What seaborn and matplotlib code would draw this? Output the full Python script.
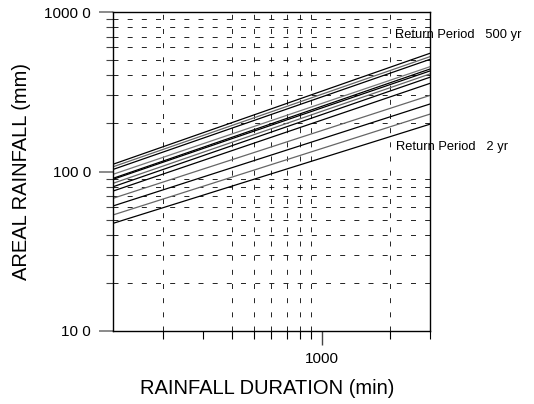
import matplotlib
matplotlib.use("Agg")
import matplotlib.pyplot as plt
from matplotlib.ticker import FixedLocator, NullFormatter
import pandas as pd
import seaborn as sns

# rainfall depth (mm) at the two ends of the duration axis
durations = [120, 3000]
rain_120 = [111, 107, 103, 96, 90.6, 89.3, 84.3, 80.2, 75.4, 67.9, 60.8, 53.4, 47.3]
rain_3000 = [551, 525, 505, 454, 439, 427, 409, 390, 357, 300, 265, 229, 198]

y_ticks = [10, 100, 1000]
y_tick_labels = ["10 0", "100 0", "1000 0"]
y_minor = [20, 30, 40, 50, 60, 70, 80, 90, 200, 300, 400, 500, 600, 700, 800, 900]
x_ticks = [1000]
x_tick_labels = ["1000"]
x_minor = [200, 300, 400, 500, 600, 700, 800, 900, 2000, 3000]
x_grid = [200, 400, 500, 600, 700, 800, 900, 2000]

rows = []
for i, (a, b) in enumerate(zip(rain_120, rain_3000)):
    rows.append({"curve": i, "duration": durations[0], "rainfall": a})
    rows.append({"curve": i, "duration": durations[1], "rainfall": b})
df = pd.DataFrame(rows)

sns.set_style("white")
plt.rcParams["font.family"] = ["Liberation Sans", "DejaVu Sans"]
plt.rcParams["text.color"] = "black"
plt.rcParams["axes.labelcolor"] = "black"
plt.rcParams["xtick.color"] = "black"
plt.rcParams["ytick.color"] = "black"

fig = plt.figure(figsize=(5.34, 4.04), dpi=100)
ax = fig.add_axes([113 / 534, 73 / 404, 317 / 534, 319 / 404])

# scanned curves: some came out darker than others
shades = ["black", "#666666", "black", "#777777", "black", "black", "#666666",
          "black", "black", "#666666", "black", "#666666", "black"]
sns.lineplot(data=df, x="duration", y="rainfall", hue="curve", palette=shades,
             legend=False, linewidth=0.9, ax=ax)

ax.set_xscale("log")
ax.set_yscale("log")
ax.set_xlim(120, 3000)
ax.set_ylim(10, 1000)

# dashed grid
for v in y_minor:
    ax.axhline(v, color="black", linewidth=0.6, linestyle=(0, (6, 11)), zorder=0)
for v in x_grid:
    ax.axvline(v, color="black", linewidth=0.6, linestyle=(0, (6, 11)), zorder=0)

ax.xaxis.set_major_locator(FixedLocator(x_ticks))
ax.set_xticklabels(x_tick_labels)
ax.xaxis.set_minor_locator(FixedLocator(x_minor))
ax.xaxis.set_minor_formatter(NullFormatter())
ax.yaxis.set_major_locator(FixedLocator(y_ticks))
ax.set_yticklabels(y_tick_labels)
ax.yaxis.set_minor_locator(FixedLocator(y_minor))
ax.yaxis.set_minor_formatter(NullFormatter())

ax.tick_params(axis="both", which="both", bottom=True, left=True, top=False,
               right=False, direction="out")
ax.tick_params(axis="x", which="major", length=10, width=1.0, labelsize=11,
               color="#444444", labelcolor="black", pad=5)
ax.tick_params(axis="y", which="major", length=10, width=1.2, labelsize=11,
               color="#777777", labelcolor="black", pad=6)
ax.tick_params(axis="x", which="minor", length=6, width=0.8, color="black")
ax.tick_params(axis="y", which="minor", length=5, width=0.8, color="#444444")

for s in ax.spines.values():
    s.set_color("black")
    s.set_linewidth(1.0)

ax.set_xlabel("RAINFALL DURATION (min)", fontsize=14.5)
ax.set_ylabel("AREAL RAINFALL (mm)", fontsize=14.5)
ax.xaxis.set_label_coords(0.486, -0.179)
ax.xaxis.label.set_va("center")
ax.yaxis.set_label_coords(-0.29, 0.50)
ax.yaxis.label.set_va("center")
ax.yaxis.label.set_ha("center")

ax.text(2103, 717, "Return Period   500 yr", fontsize=9.3, va="center", ha="left",
        clip_on=False)
ax.text(2120, 142.6, "Return Period   2 yr", fontsize=9.3, va="center", ha="left",
        clip_on=False)

fig.savefig("out.png", dpi=100)
